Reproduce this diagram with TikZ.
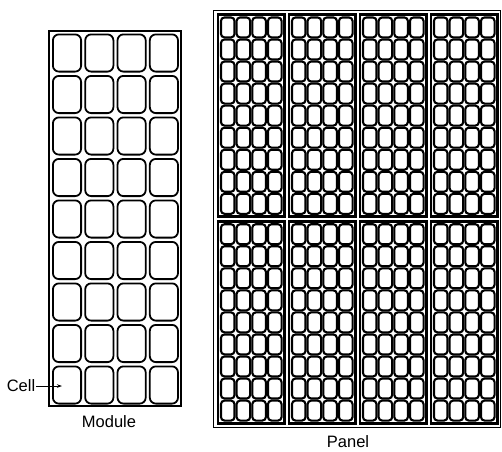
\documentclass[tikz,border=0pt]{standalone}
\usepackage{fontspec}
\setmainfont{Liberation Sans}
\usetikzlibrary{arrows.meta}
\begin{document}
\begin{tikzpicture}[x=1pt,y=-1pt,
  modframe/.style={draw=black,line width=2pt},
  modcell/.style={draw=black,line width=1.8pt,rounded corners=6pt},
  panframe/.style={draw=black,line width=1.4pt},
  subframe/.style={draw=black,line width=2.8pt},
  pancell/.style={draw=black,line width=2.1pt,rounded corners=3.5pt},
  lbl/.style={font=\fontsize{16.5}{19}\selectfont,inner sep=0pt}]
\useasboundingbox (0,0) rectangle (502,451);
% module
\draw[modframe] (49,31) rectangle (181,406);
\foreach \i in {0,...,3}{
  \foreach \j in {0,...,8}{
    \draw[modcell] ({52.9+\i*32.3},{34.4+\j*41.5}) rectangle ({52.9+\i*32.3+28.2},{34.4+\j*41.5+37.2});
  }
}
% panel
\draw[panframe] (213.6,10.6) rectangle (500.4,427.4);
\foreach \i in {0,...,3}{
  \foreach \j in {0,1}{
    \pgfmathsetmacro{\xo}{216.5+\i*71}
    \pgfmathsetmacro{\yo}{13+\j*206.75}
    \draw[subframe] ({\xo+1.4},{\yo+1.4}) rectangle ({\xo+69.5-1.4},{\yo+205.25-1.4});
    \foreach \c in {0,...,3}{
      \foreach \r in {0,...,8}{
        \draw[pancell] ({\xo+3.4+\c*15.675+1.05},{\yo+3.4+\r*22.05+1.05}) rectangle ({\xo+3.4+(\c+1)*15.675-1.05},{\yo+3.4+(\r+1)*22.05-1.05});
      }
    }
  }
}
% labels
\node[lbl] (celllbl) at (21,386) {Cell};
\coordinate (celltip) at (62,386);
\draw[line width=0.9pt,-{Stealth[length=5pt,width=3.5pt]}] (celllbl.east) ++(1,0) -- (celltip);
\node[lbl] (modlbl) at (109,422) {Module};
\node[lbl] (panlbl) at (348,442) {Panel};
\end{tikzpicture}
\end{document}
